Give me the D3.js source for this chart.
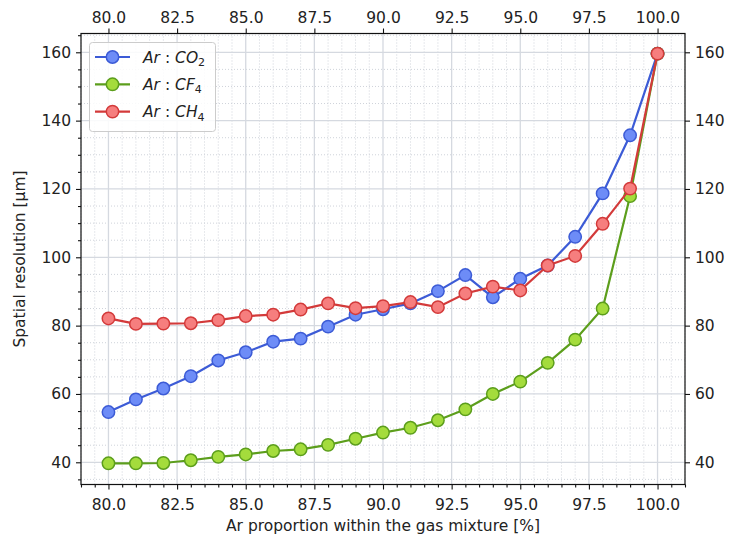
<!DOCTYPE html>
<html>
<head>
<meta charset="UTF-8">
<title>Spatial resolution vs Ar proportion</title>
<script src="https://d3js.org/d3.v7.min.js"></script>
<style>
  body { margin: 0; background: #fff; }
  text { font-family: "DejaVu Sans", sans-serif; fill: #222; }
</style>
</head>
<body>
<script>
// Ar proportion [%]
var arProportion = [80, 81, 82, 83, 84, 85, 86, 87, 88, 89, 90, 91, 92, 93, 94, 95, 96, 97, 98, 99, 100];
// spatial resolution [um] for each mixture
var resCO2 = [54.7, 58.4, 61.6, 65.2, 69.8, 72.2, 75.3, 76.2, 79.7, 83.2, 84.8, 86.5, 90.1, 94.8, 88.3, 93.7, 97.6, 106.0, 118.7, 135.7, 159.6];
var resCF4 = [39.7, 39.7, 39.8, 40.6, 41.6, 42.3, 43.3, 43.8, 45.1, 46.9, 48.7, 50.1, 52.3, 55.5, 60.0, 63.6, 69.1, 75.9, 85.0, 117.9, 159.6];
var resCH4 = [82.1, 80.5, 80.6, 80.7, 81.6, 82.8, 83.2, 84.7, 86.5, 85.1, 85.7, 86.9, 85.4, 89.4, 91.4, 90.3, 97.6, 100.4, 109.8, 120.1, 159.6];
var xTicks = [80, 82.5, 85, 87.5, 90, 92.5, 95, 97.5, 100];
var yTicks = [40, 60, 80, 100, 120, 140, 160];

var series = [
  {gas: "CO", sub: "2", values: resCO2, line: "#3c5bd6", fill: "#6d8cf7"},
  {gas: "CF", sub: "4", values: resCF4, line: "#5c9e1c", fill: "#a4dc3c"},
  {gas: "CH", sub: "4", values: resCH4, line: "#d33a3a", fill: "#f67e7e"}
];

var W = 730, H = 540;
var pLeft = 81, pRight = 685, pTop = 33.5, pBottom = 484.5;

var svg = d3.select("body").append("svg")
  .attr("width", W).attr("height", H);

var x = d3.scaleLinear().domain([79, 101]).range([pLeft, pRight]);
var y = d3.scaleLinear().domain([33.5, 165.5]).range([pBottom, pTop]);

var xMinor = d3.range(79, 101.01, 0.5).filter(function(v) { return xTicks.indexOf(v) < 0; });
var yMinor = d3.range(35, 166, 5).filter(function(v) { return v % 20 != 0; });

// grid: minor dotted first, then major solid
var grid = svg.append("g");
grid.selectAll(".vminor").data(xMinor).enter().append("line")
  .attr("x1", function(d) { return x(d); }).attr("x2", function(d) { return x(d); })
  .attr("y1", pTop).attr("y2", pBottom)
  .attr("stroke", "#cfd3da").attr("stroke-width", 1).attr("stroke-dasharray", "1,2");
grid.selectAll(".hminor").data(yMinor).enter().append("line")
  .attr("y1", function(d) { return y(d); }).attr("y2", function(d) { return y(d); })
  .attr("x1", pLeft).attr("x2", pRight)
  .attr("stroke", "#cfd3da").attr("stroke-width", 1).attr("stroke-dasharray", "1,2");
grid.selectAll(".vmajor").data(xTicks).enter().append("line")
  .attr("x1", function(d) { return x(d); }).attr("x2", function(d) { return x(d); })
  .attr("y1", pTop).attr("y2", pBottom)
  .attr("stroke", "#d5d9e0").attr("stroke-width", 1.3);
grid.selectAll(".hmajor").data(yTicks).enter().append("line")
  .attr("y1", function(d) { return y(d); }).attr("y2", function(d) { return y(d); })
  .attr("x1", pLeft).attr("x2", pRight)
  .attr("stroke", "#d5d9e0").attr("stroke-width", 1.3);

function styleAxis(g) {
  g.select(".domain").remove();
  g.selectAll(".tick line").attr("stroke", "#111").attr("stroke-width", 1.1);
  g.selectAll(".tick text").style("font-size", "15.5px").attr("fill", "#222");
}

var fmt = d3.format(".1f");

// minor ticks (bottom, left only)
svg.append("g").attr("transform", "translate(0," + pBottom + ")")
  .call(d3.axisBottom(x).tickValues(xMinor).tickSize(3).tickFormat(""))
  .call(styleAxis);
svg.append("g").attr("transform", "translate(" + pLeft + ",0)")
  .call(d3.axisLeft(y).tickValues(yMinor).tickSize(3).tickFormat(""))
  .call(styleAxis);

svg.append("g").attr("transform", "translate(0," + pBottom + ")")
  .call(d3.axisBottom(x).tickValues(xTicks).tickSize(5).tickPadding(9).tickFormat(fmt))
  .call(styleAxis);
svg.append("g").attr("transform", "translate(0," + pTop + ")")
  .call(d3.axisTop(x).tickValues(xTicks).tickSize(5).tickPadding(6).tickFormat(fmt))
  .call(styleAxis);
svg.append("g").attr("transform", "translate(" + pLeft + ",0)")
  .call(d3.axisLeft(y).tickValues(yTicks).tickSize(5).tickPadding(5))
  .call(styleAxis);
svg.append("g").attr("transform", "translate(" + pRight + ",0)")
  .call(d3.axisRight(y).tickValues(yTicks).tickSize(5).tickPadding(5))
  .call(styleAxis);

// lines and markers
var line = d3.line()
  .x(function(d, i) { return x(arProportion[i]); })
  .y(function(d) { return y(d); });

series.forEach(function(s) {
  var g = svg.append("g");
  g.append("path").datum(s.values)
    .attr("d", line)
    .attr("fill", "none").attr("stroke", s.line).attr("stroke-width", 2.2);
  g.selectAll("circle").data(s.values).enter().append("circle")
    .attr("cx", function(d, i) { return x(arProportion[i]); })
    .attr("cy", function(d) { return y(d); })
    .attr("r", 6.2)
    .attr("fill", s.fill).attr("stroke", s.line).attr("stroke-width", 1.5);
});

// frame
svg.append("rect")
  .attr("x", pLeft).attr("y", pTop)
  .attr("width", pRight - pLeft).attr("height", pBottom - pTop)
  .attr("fill", "none").attr("stroke", "#111").attr("stroke-width", 1.2);

// axis labels
svg.append("text")
  .attr("x", (pLeft + pRight) / 2).attr("y", 531)
  .attr("text-anchor", "middle").style("font-size", "15.5px")
  .text("Ar proportion within the gas mixture [%]");
svg.append("text")
  .attr("transform", "translate(25," + ((pTop + pBottom) / 2) + ") rotate(-90)")
  .attr("text-anchor", "middle").style("font-size", "15.5px")
  .text("Spatial resolution [\u00b5m]");

// legend
var leg = svg.append("g");
leg.append("rect")
  .attr("x", 89.5).attr("y", 42.5).attr("width", 126).attr("height", 89)
  .attr("rx", 3).attr("fill", "#fff").attr("fill-opacity", 0.85)
  .attr("stroke", "#cccccc").attr("stroke-width", 1);
series.forEach(function(s, i) {
  var ry = 57 + i * 27.3;
  leg.append("line").attr("x1", 95).attr("x2", 130).attr("y1", ry).attr("y2", ry)
    .attr("stroke", s.line).attr("stroke-width", 2.2);
  leg.append("circle").attr("cx", 112.5).attr("cy", ry).attr("r", 6.2)
    .attr("fill", s.fill).attr("stroke", s.line).attr("stroke-width", 1.5);
  var t = leg.append("text").attr("x", 143).attr("y", ry + 5.5).style("font-size", "15.5px");
  t.append("tspan").style("font-style", "italic").text("Ar");
  t.append("tspan").text(" : ");
  t.append("tspan").style("font-style", "italic").text(s.gas);
  t.append("tspan").attr("dy", 3.5).style("font-size", "11px").text(s.sub);
});
</script>
</body>
</html>
